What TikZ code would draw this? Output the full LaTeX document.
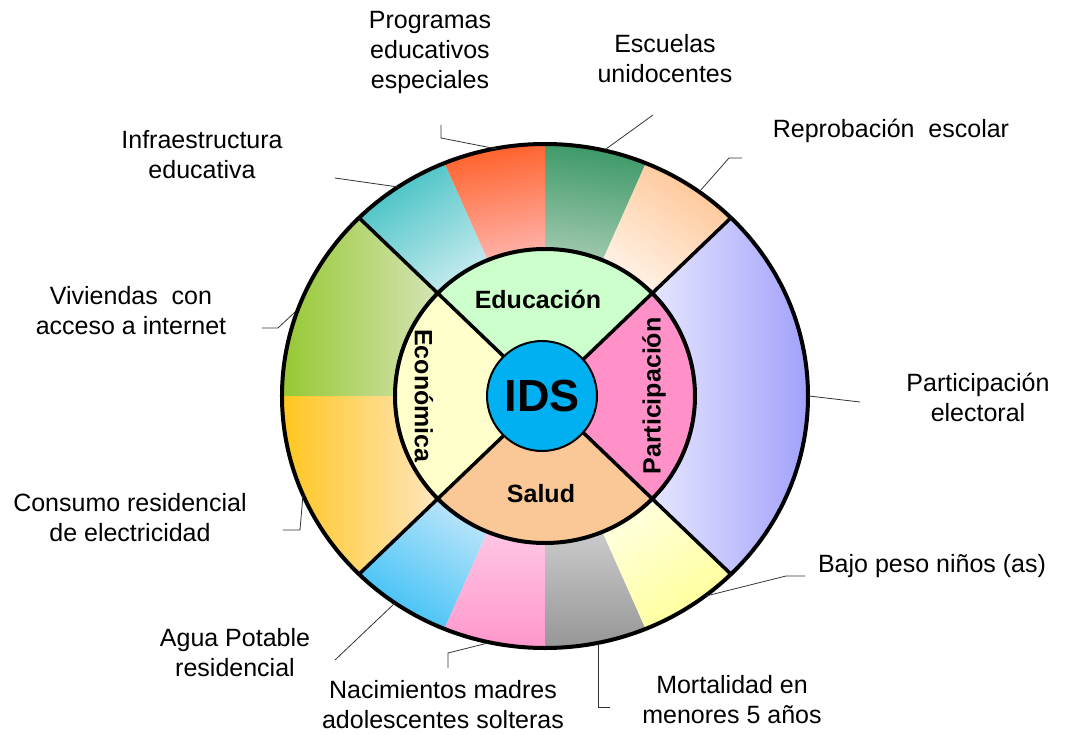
\documentclass[tikz,border=0pt]{standalone}
\usepackage{fontspec}
\setmainfont{Liberation Sans}
\usepackage{tikz}
\usetikzlibrary{positioning}

% colours of the outer ring (dark / light end of each shading)
\definecolor{peachD}{RGB}{255,196,146}
\definecolor{peachL}{RGB}{255,242,230}
\definecolor{escD}{RGB}{58,152,102}
\definecolor{escL}{RGB}{160,200,174}
\definecolor{progD}{RGB}{255,96,40}
\definecolor{progL}{RGB}{255,178,170}
\definecolor{infD}{RGB}{64,192,194}
\definecolor{infL}{RGB}{196,234,238}
\definecolor{vivD}{RGB}{150,200,50}
\definecolor{vivL}{RGB}{214,228,182}
\definecolor{conD}{RGB}{255,198,30}
\definecolor{conL}{RGB}{255,230,192}
\definecolor{aguaD}{RGB}{60,192,245}
\definecolor{aguaL}{RGB}{184,228,250}
\definecolor{nacD}{RGB}{255,150,204}
\definecolor{nacL}{RGB}{255,198,228}
\definecolor{morD}{RGB}{150,150,150}
\definecolor{morL}{RGB}{202,202,202}
\definecolor{bajD}{RGB}{255,255,150}
\definecolor{bajL}{RGB}{255,255,222}
\definecolor{parD}{RGB}{150,150,250}
\definecolor{parL}{RGB}{230,230,255}
% colours of the inner ring
\definecolor{eduC}{RGB}{204,255,204}
\definecolor{parC}{RGB}{255,145,200}
\definecolor{salC}{RGB}{250,200,150}
\definecolor{ecoC}{RGB}{255,255,204}
\definecolor{idsC}{RGB}{0,176,240}

% one piece of the outer ring, between two angles
\newcommand{\ringseg}[3]{%
  \path[#3] (#1:263 and 252) arc[start angle=#1, end angle=#2, x radius=263, y radius=252]
    -- (#2:150 and 147) arc[start angle=#2, end angle=#1, x radius=150, y radius=147] -- cycle;}
% one quarter of the inner ring
\newcommand{\innerseg}[3]{%
  \fill[#3] (0,0) -- (#1:150 and 147) arc[start angle=#1, end angle=#2, x radius=150, y radius=147] -- cycle;}

\begin{document}
\begin{tikzpicture}[x=1pt, y=1pt,
    lbl/.style={align=center, inner sep=0pt, font=\fontsize{25}{30}\selectfont},
    dim/.style={inner sep=0pt, font=\fontsize{25}{28}\selectfont\bfseries},
    leader/.style={draw=black!80, line width=0.8pt},
    ring/.style={draw=black, line width=4pt}]
    \useasboundingbox (-545,-338) rectangle (523,396);

    % outer ring
    \ringseg{45}{67.5}{top color=peachD, bottom color=peachL, shading angle=-34}
    \ringseg{67.5}{90}{top color=escD, bottom color=escL, shading angle=-8}
    \ringseg{90}{112.5}{top color=progD, bottom color=progL, shading angle=10}
    \ringseg{112.5}{135}{top color=infD, bottom color=infL, shading angle=34}
    \ringseg{135}{180}{left color=vivD, right color=vivL}
    \ringseg{180}{225}{left color=conD, right color=conL}
    \ringseg{225}{247.5}{top color=aguaD, bottom color=aguaL, shading angle=146}
    \ringseg{247.5}{270}{top color=nacL, bottom color=nacD}
    \ringseg{270}{292.5}{top color=morL, bottom color=morD}
    \ringseg{292.5}{315}{top color=bajD, bottom color=bajL, shading angle=214}
    \ringseg{-45}{45}{left color=parL, right color=parD}

    % inner ring
    \innerseg{45}{135}{eduC}
    \innerseg{135}{225}{ecoC}
    \innerseg{225}{315}{salC}
    \innerseg{-45}{45}{parC}

    \draw[ring] (0,0) ellipse [x radius=263, y radius=252];
    \draw[ring] (0,0) ellipse [x radius=150, y radius=147];
    \foreach \a in {45,135,225,315}
        \draw[line width=3.5pt] (0,0) -- (\a:263 and 252);

    \node[circle, draw, line width=2pt, fill=idsC, minimum size=110pt, inner sep=0pt,
          font=\fontsize{45}{45}\selectfont\bfseries] (ids) at (-3,0) {IDS};

    \node[dim] (edu) at (-7,97) {Educación};
    \node[dim] (sal) at (-4,-98) {Salud};
    \node[dim, rotate=-90] (eco) at (-121,0) {Económica};
    \node[dim, rotate=90] (par) at (109,0) {Participación};

    % labels round the ring
    \node[lbl] (prog) at (-115,344) {Programas\\educativos\\especiales};
    \node[lbl] (esc) at (120,337) {Escuelas\\unidocentes};
    \node[lbl] (rep) at (346,265) {Reprobación\ \ escolar};
    \node[lbl] (inf) at (-343,241) {Infraestructura\\educativa};
    \node[lbl] (viv) at (-414,85) {Viviendas\ \ con\\acceso a internet};
    \node[lbl] (pel) at (433,-1) {Participación\\electoral};
    \node[lbl] (con) at (-415,-122) {Consumo residencial\\de electricidad};
    \node[lbl] (baj) at (387,-170) {Bajo peso niños (as)};
    \node[lbl] (agu) at (-310,-257) {Agua Potable\\residencial};
    \node[lbl] (nac) at (-102,-309) {Nacimientos madres\\adolescentes solteras};
    \node[lbl] (mor) at (187,-304) {Mortalidad en\\menores 5 años};

    % leader lines
    \coordinate (prog-a) at (-104,271);
    \coordinate (prog-b) at (-48,247);
    \coordinate (esc-a) at (108,281);
    \coordinate (esc-b) at (61,247);
    \coordinate (rep-a) at (197,238);
    \coordinate (rep-b) at (155,205);
    \coordinate (inf-a) at (-210,218);
    \coordinate (inf-b) at (-147,209);
    \coordinate (viv-a) at (-283,68);
    \coordinate (viv-b) at (-250,84);
    \coordinate (pel-a) at (315,-6);
    \coordinate (pel-b) at (264,0);
    \coordinate (con-a) at (-262,-134);
    \coordinate (con-b) at (-242,-99);
    \coordinate (agu-a) at (-210,-264);
    \coordinate (agu-b) at (-150,-207);
    \coordinate (nac-a) at (-97,-272);
    \coordinate (nac-b) at (-57,-247);
    \coordinate (mor-a) at (65,-311);
    \coordinate (mor-b) at (53,-248);
    \coordinate (baj-a) at (260,-180);
    \coordinate (baj-b) at (161,-200);

    \draw[leader] (prog-a) -- ++(0,-13) -- (prog-b);
    \draw[leader] (esc-a) -- (esc-b);
    \draw[leader] (rep-a) -- ++(-13,0) -- (rep-b);
    \draw[leader] (inf-a) -- (inf-b);
    \draw[leader] (viv-a) -- ++(16,0) -- (viv-b);
    \draw[leader] (pel-a) -- (pel-b);
    \draw[leader] (con-a) -- ++(17,0) -- (con-b);
    \draw[leader] (agu-a) -- (agu-b);
    \draw[leader] (nac-a) -- ++(0,15) -- (nac-b);
    \draw[leader] (mor-a) -- ++(-12,0) -- (mor-b);
    \draw[leader] (baj-a) -- ++(-19,0) -- (baj-b);
\end{tikzpicture}
\end{document}
